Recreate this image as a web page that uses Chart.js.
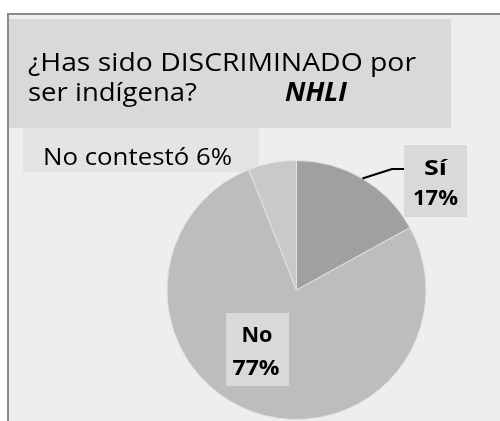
<!DOCTYPE html>
<html>
<head>
<meta charset="utf-8">
<script src="https://cdn.jsdelivr.net/npm/chart.js@4"></script>
<style>
  html, body { margin: 0; padding: 0; background: #ffffff; }
  #grafico { display: block; }
</style>
</head>
<body>
<canvas id="grafico" width="500" height="421"></canvas>
<script>
// Respuestas de la encuesta
const categorias = ['Sí', 'No', 'No contestó'];
const porcentajes = [17, 77, 6];
const colores = ['#a0a0a0', '#bdbdbd', '#c9c9c9'];

const tituloLinea1 = '¿Has sido DISCRIMINADO por';
const tituloLinea2 = 'ser indígena?';
const tituloSigla = 'NHLI';

const FUENTE = '"Open Sans", "Noto Sans", sans-serif';

// escribe un texto ajustado a un ancho dado (la fuente original es más estrecha)
function textoAjustado(ctx, texto, x, y, ancho, fuente, alinear) {
    ctx.save();
    ctx.font = fuente;
    const w = ctx.measureText(texto).width;
    const sx = ancho / w;
    let x0 = x;
    if (alinear === 'center') x0 = x - ancho / 2;
    ctx.translate(x0, y);
    ctx.scale(sx, 1);
    ctx.textAlign = 'left';
    ctx.textBaseline = 'alphabetic';
    ctx.fillStyle = '#000000';
    ctx.fillText(texto, 0, 0);
    ctx.restore();
}

const fondo = {
    id: 'fondo',
    beforeDraw(chart) {
        const ctx = chart.ctx;
        ctx.save();
        ctx.fillStyle = '#ffffff';
        ctx.fillRect(0, 0, chart.width, chart.height);
        ctx.fillStyle = '#eeeeee';
        ctx.fillRect(8, 14, chart.width - 8, chart.height - 14);
        ctx.strokeStyle = '#8a8a8a';
        ctx.lineWidth = 2;
        ctx.beginPath();
        ctx.moveTo(8, chart.height);
        ctx.lineTo(8, 14);
        ctx.lineTo(chart.width, 14);
        ctx.stroke();

        // caja de la etiqueta "No contestó" (queda parcialmente bajo el título)
        ctx.fillStyle = '#e4e4e4';
        ctx.fillRect(23, 110, 236, 62);
        textoAjustado(ctx, categorias[2] + ' ' + porcentajes[2] + '%', 43, 165, 189,
            '500 24px ' + FUENTE, 'left');

        // caja del título
        ctx.fillStyle = '#d9d9d9';
        ctx.fillRect(9, 19, 442, 109);
        textoAjustado(ctx, tituloLinea1, 28, 71, 388, '500 26px ' + FUENTE, 'left');
        textoAjustado(ctx, tituloLinea2, 28, 101, 169, '500 26px ' + FUENTE, 'left');
        textoAjustado(ctx, tituloSigla, 285, 101, 62, 'italic bold 26px ' + FUENTE, 'left');
        ctx.restore();
    },
    afterDatasetsDraw(chart) {
        const ctx = chart.ctx;
        const arcos = chart.getDatasetMeta(0).data;
        ctx.save();

        // etiqueta "Sí" con línea guía desde el borde del sector
        const a = arcos[0];
        const medio = (a.startAngle + a.endAngle) / 2;
        const px = a.x + Math.cos(medio) * a.outerRadius;
        const py = a.y + Math.sin(medio) * a.outerRadius;
        ctx.strokeStyle = '#000000';
        ctx.lineWidth = 2;
        ctx.beginPath();
        ctx.moveTo(px, py);
        ctx.lineTo(392, 169);
        ctx.lineTo(404, 169);
        ctx.stroke();
        ctx.fillStyle = '#d9d9d9';
        ctx.fillRect(404, 145, 63, 72);
        textoAjustado(ctx, categorias[0], 435.5, 175, 23, 'bold 21px ' + FUENTE, 'center');
        textoAjustado(ctx, porcentajes[0] + '%', 435.5, 205, 45, 'bold 21px ' + FUENTE, 'center');

        // etiqueta "No" dentro del sector
        ctx.fillStyle = '#d9d9d9';
        ctx.fillRect(226, 313, 63, 73);
        textoAjustado(ctx, categorias[1], 257, 342, 31, 'bold 21px ' + FUENTE, 'center');
        textoAjustado(ctx, porcentajes[1] + '%', 256, 375, 47, 'bold 21px ' + FUENTE, 'center');
        ctx.restore();
    }
};

const ctx = document.getElementById('grafico').getContext('2d');

const grafico = new Chart(ctx, {
    type: 'pie',
    data: {
        labels: categorias,
        datasets: [{
            data: porcentajes,
            backgroundColor: colores,
            borderColor: '#e2e2e2',
            borderWidth: 1
        }]
    },
    options: {
        responsive: false,
        animation: false,
        layout: {
            padding: { left: 166, right: 73, top: 160, bottom: 1 }
        },
        plugins: {
            legend: { display: false },
            tooltip: { enabled: false }
        }
    },
    plugins: [fondo]
});
</script>
</body>
</html>
